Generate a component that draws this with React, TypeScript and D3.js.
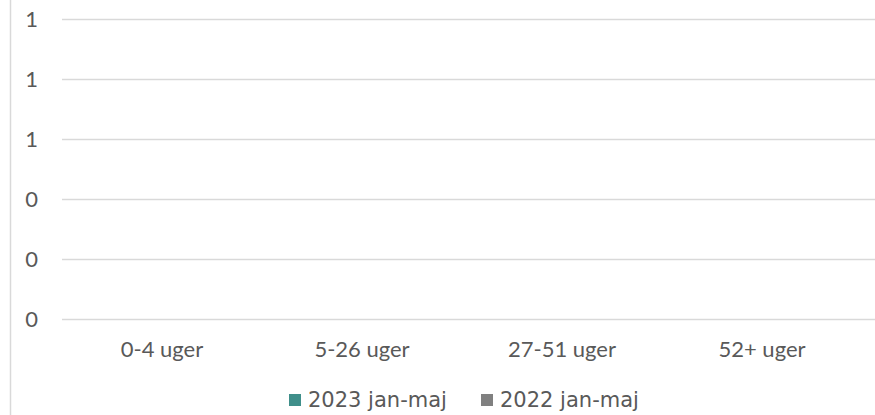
import React from "react";
import * as d3 from "d3";

const categories = ["0-4 uger", "5-26 uger", "27-51 uger", "52+ uger"];
const seriesNames = ["2023 jan-maj", "2022 jan-maj"];
const values2023 = [0, 0, 0, 0];
const values2022 = [0, 0, 0, 0];
const yTicks = [0, 0.2, 0.4, 0.6, 0.8, 1.0];
const seriesColors = ["#3f8f8a", "#808080"];

export default function App() {
  const W = 875;
  const H = 415;
  const x = d3.scaleBand<string>().domain(categories).range([62, 862]).paddingInner(0.3).paddingOuter(0.15);
  const y = d3.scaleLinear().domain([0, 1]).range([319.5, 19.5]);
  const fmt = d3.format(".0f");
  const series = [values2023, values2022];
  const inner = d3.scaleBand<number>().domain([0, 1]).range([0, x.bandwidth()]).padding(0.05);

  return (
    <svg width={W} height={H} style={{ position: "absolute", left: 0, top: 0, background: "#fff" }}>
      <rect x={0} y={0} width={W} height={H} fill="#fff" />
      <line x1={10.5} x2={10.5} y1={0} y2={H} stroke="#d9d9d9" strokeWidth={1.5} />
      {yTicks.map((t, i) => (
        <g key={i}>
          <line x1={62} x2={875} y1={y(t)} y2={y(t)} stroke="#d9d9d9" strokeWidth={1.5} />
          <text x={38} y={y(t)} dy="0.35em" textAnchor="end" fontFamily="Lato" fontSize={22} fill="#595959">
            {fmt(t)}
          </text>
        </g>
      ))}
      {series.map((vals, si) =>
        vals.map((v, ci) => (
          <rect
            key={`${si}-${ci}`}
            x={(x(categories[ci]) ?? 0) + (inner(si) ?? 0)}
            y={y(v)}
            width={inner.bandwidth()}
            height={y(0) - y(v)}
            fill={seriesColors[si]}
          />
        ))
      )}
      {categories.map((c) => (
        <text key={c} x={(x(c) ?? 0) + x.bandwidth() / 2} y={357} textAnchor="middle" fontFamily="Lato" fontSize={22} fill="#595959">
          {c}
        </text>
      ))}
      {seriesNames.map((s, i) => {
        const lx = 289 + i * 192;
        return (
          <g key={s}>
            <rect x={lx} y={394} width={12} height={12} fill={seriesColors[i]} />
            <text x={lx + 19} y={407} fontFamily="DejaVu Sans" fontSize={21} fill="#595959">
              {s}
            </text>
          </g>
        );
      })}
    </svg>
  );
}
